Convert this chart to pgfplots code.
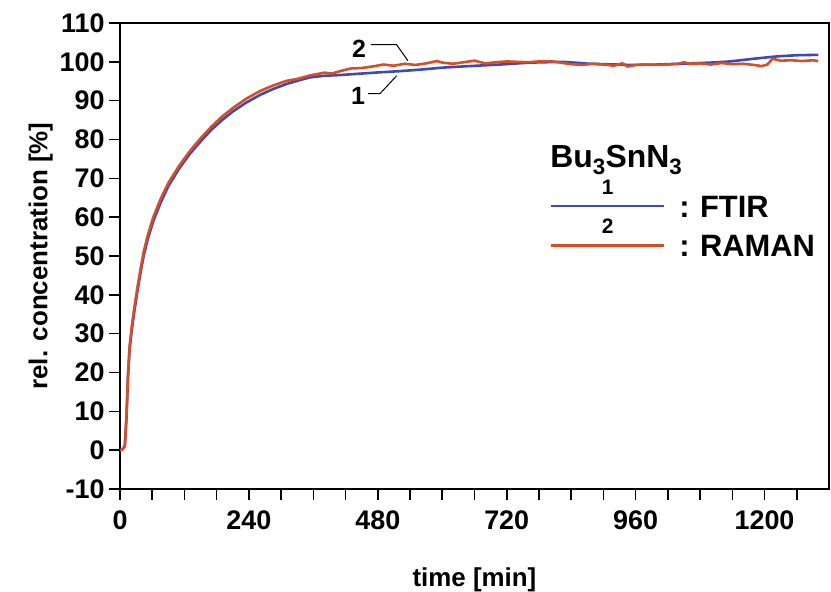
\documentclass[border=0pt]{standalone}
\usepackage{pgfplots}
\pgfplotsset{compat=1.18}
\usepackage{fontspec}
\setmainfont{Liberation Sans}
\definecolor{ftir}{RGB}{62,72,182}
\definecolor{raman}{RGB}{214,78,38}
\begin{document}
\begin{tikzpicture}[x=1bp,y=1bp]
\begin{axis}[
  at={(120bp,103bp)}, anchor=south west,
  scale only axis, width=709bp, height=466bp,
  xmin=0, xmax=1320, ymin=-10, ymax=110,
  axis line style={line width=1.6bp},
  every tick/.style={black, line width=1.6bp},
  tick align=outside, major tick length=11bp, minor tick length=11bp,
  xtick={0,240,...,1200}, minor xtick={60,120,...,1260},
  ytick={-10,0,...,110},
  xtick pos=left, ytick pos=left,
  /pgf/number format/assume math mode=true,
  /pgf/number format/1000 sep={},
  ticklabel style={font=\bfseries\fontsize{27}{27}\selectfont},
  xticklabel style={yshift=-7bp},
  yticklabel style={xshift=-1bp},
  xlabel={time [min]}, ylabel={rel. concentration [\%]},
  label style={font=\bfseries\fontsize{26}{26}\selectfont},
  xlabel style={yshift=-31bp},
  ylabel style={yshift=0bp},
  clip=false,
]
\addplot[ftir, line width=2.6bp] coordinates {
(0,0) (5,0.3) (9,1) (12,8) (15,19) (18,26) (22,31) (27,36) (32,40.5) (38,45.5)
(44,50) (52,54.5) (62,59) (75,63.5) (90,68) (110,72.5) (130,76.3) (150,79.5)
(170,82.5) (190,85) (211,87.3) (235,89.5) (261,91.5) (285,93) (310,94.3)
(335,95.3) (354,96) (380,96.4) (410,96.6) (441,96.9) (484,97.3) (521,97.6)
(560,98) (600,98.5) (650,98.9) (707,99.3) (763,99.8) (825,100) (875,99.5)
(950,99.2) (1000,99.3) (1061,99.6) (1100,99.8) (1136,100.1) (1180,100.8)
(1223,101.4) (1260,101.7) (1300,101.8)
};
\addplot[raman, line width=2.6bp] coordinates {
(0,0) (5,0.2) (9,1.2) (12,9) (15,20) (18,27) (22,32) (27,37) (32,41.5) (38,46.5)
(44,51) (52,55.5) (62,60) (75,64.5) (90,68.8) (110,73.2) (130,77) (150,80.3)
(170,83.3) (190,85.9) (211,88.2) (235,90.5) (261,92.5) (285,93.9) (310,95.1)
(330,95.6) (354,96.5) (380,97.2) (395,97.0) (410,97.6) (430,98.3) (450,98.4)
(470,98.8) (490,99.3) (510,99.0) (530,99.5) (550,99.2) (570,99.6) (590,100.2)
(600,99.8) (620,99.5) (640,99.9) (660,100.3) (680,99.6) (700,99.9) (720,100.1)
(740,100) (760,99.9) (780,100.1) (800,100.2) (820,99.8) (840,99.4) (860,99.2)
(880,99.5) (900,99.3) (920,99.0) (935,99.6) (945,98.8) (960,99.2) (980,99.3)
(1000,99.2) (1020,99.3) (1040,99.5) (1050,99.9) (1060,99.5) (1080,99.6)
(1100,99.3) (1120,99.7) (1140,99.4) (1160,99.5) (1180,99.2) (1195,98.9)
(1205,99.3) (1215,100.8) (1230,100.3) (1250,100.4) (1270,100.2) (1290,100.4)
(1300,100.2)
};
% annotations
\node[font=\bfseries\fontsize{25}{25}\selectfont] at (axis cs:445,103.4) {2};
\draw[line width=1bp] (axis cs:467,104.4) -- (axis cs:515,104.4) -- (axis cs:536,100.3);
\node[font=\bfseries\fontsize{25}{25}\selectfont] at (axis cs:443,91.3) {1};
\draw[line width=1bp] (axis cs:462,91.8) -- (axis cs:484,91.8) -- (axis cs:515,96.4);
% legend
\node[font=\bfseries\fontsize{32}{32}\selectfont] at (axis cs:924,74.6) {Bu\textsubscript{3}SnN\textsubscript{3}};
\draw[ftir, line width=2.6bp] (axis cs:803,62.9) -- (axis cs:1013,62.9);
\node[font=\bfseries\fontsize{21}{21}\selectfont] at (axis cs:908,67.8) {1};
\node[font=\bfseries\fontsize{31}{31}\selectfont, anchor=west] at (axis cs:1035,62.6) {:\,\,FTIR};
\draw[raman, line width=2.6bp] (axis cs:803,52.7) -- (axis cs:1013,52.7);
\node[font=\bfseries\fontsize{21}{21}\selectfont] at (axis cs:908,57.6) {2};
\node[font=\bfseries\fontsize{31}{31}\selectfont, anchor=west] at (axis cs:1035,52.6) {:\,\,RAMAN};
\end{axis}
\pgfresetboundingbox
\path (0bp,0bp) rectangle (831bp,592bp);
\end{tikzpicture}
\end{document}
